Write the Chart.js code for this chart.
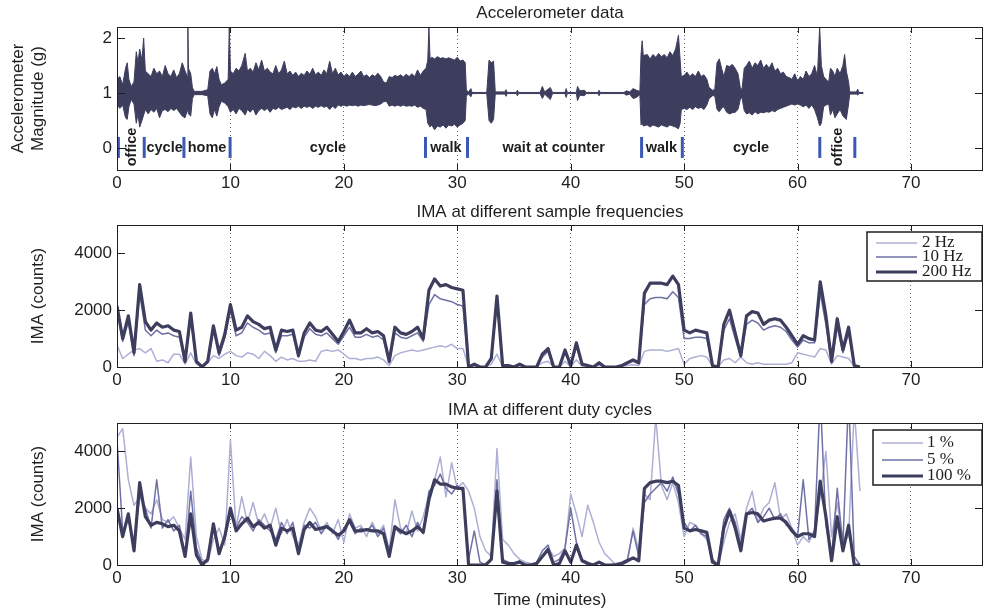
<!DOCTYPE html>
<html>
<head>
<meta charset="utf-8">
<script src="https://cdn.jsdelivr.net/npm/chart.js@4.4.1/dist/chart.umd.min.js"></script>
<style>
html, body { margin: 0; padding: 0; background: #fff; }
#wrap { position: relative; width: 984px; height: 611px; overflow: hidden; }
canvas { position: absolute; left: 0; }
</style>
</head>
<body>
<div id="wrap">
<canvas id="c1" width="984" height="200" style="top:0px"></canvas>
<canvas id="c2" width="984" height="198" style="top:200px"></canvas>
<canvas id="c3" width="984" height="213" style="top:398px"></canvas>
</div>
<script>
var FONT = "'Liberation Sans', Arial, Helvetica, sans-serif";
var SERIF = "'Liberation Serif', 'Times New Roman', serif";
var INK = "#1e1e1e";
var DARK = "#3d3e5e";
var MID = "#6f71a6";
var LIGHT = "#adafd5";
var BLUE = "#3a58b4";

// axes
var X_MAX = 76.35;
var xTicks = [0, 10, 20, 30, 40, 50, 60, 70];
var accTicks = [0, 1, 2];
var imaTicks = [0, 2000, 4000];

// accelerometer envelope (minutes, upper and lower magnitude in g)
var accTime = [
  0, 0.25, 0.5, 0.75, 0.9, 1.05, 1.25, 1.5, 1.7, 1.85,
  2, 2.2, 2.35, 2.5, 2.75, 3, 3.25, 3.5, 3.75, 4,
  4.25, 4.5, 4.75, 5, 5.25, 5.5, 5.75, 6, 6.2, 6.25,
  6.3, 6.5, 6.65, 6.8, 7.5, 8, 8.2, 8.4, 8.6, 8.8,
  9, 9.2, 9.5, 9.8, 9.9, 10, 10.25, 10.5, 10.75, 11,
  11.3, 11.5, 11.75, 12, 12.25, 12.5, 12.75, 13, 13.25, 13.5,
  13.75, 14, 14.25, 14.5, 14.75, 15, 15.25, 15.5, 15.75, 16,
  16.25, 16.5, 16.75, 17, 17.25, 17.5, 17.75, 18, 18.25, 18.5,
  18.75, 19, 19.25, 19.5, 19.75, 20, 20.25, 20.5, 20.75, 21,
  21.25, 21.5, 21.75, 22, 22.25, 22.5, 22.75, 23, 23.25, 23.5,
  23.75, 24, 24.25, 24.5, 24.75, 25, 25.25, 25.5, 25.75, 26,
  26.25, 26.5, 26.75, 27, 27.25, 27.4, 27.5, 27.6, 27.75, 28,
  28.25, 28.5, 28.75, 29, 29.25, 29.5, 29.75, 30, 30.25, 30.5,
  30.7, 30.8, 31, 31.2, 31.3, 32.6, 32.8, 33, 33.2, 33.35,
  34.2, 34.3, 34.4, 35.2, 35.3, 35.4, 37.3, 37.5, 37.7, 38.2,
  38.4, 39.5, 39.6, 39.7, 40.5, 40.6, 40.8, 41.2, 41.4, 42.4,
  42.5, 42.6, 44.7, 44.9, 45.2, 45.5, 45.8, 46.1, 46.2, 46.3,
  46.4, 46.75, 47, 47.25, 47.5, 47.75, 48, 48.25, 48.5, 48.75,
  49, 49.25, 49.5, 49.65, 49.75, 50, 50.25, 50.5, 50.75, 51,
  51.25, 51.5, 51.75, 52, 52.2, 52.5, 52.7, 52.9, 53.1, 53.3,
  53.5, 53.75, 54, 54.25, 54.5, 54.75, 54.95, 55.1, 55.3, 55.5,
  55.75, 56, 56.25, 56.5, 56.75, 57, 57.25, 57.5, 57.75, 58,
  58.25, 58.5, 58.75, 59, 59.25, 59.5, 59.75, 60, 60.25, 60.5,
  60.75, 61, 61.25, 61.5, 61.75, 61.95, 62.1, 62.3, 62.5, 62.75,
  62.9, 63.1, 63.3, 63.5, 63.75, 64, 64.15, 64.3, 64.5, 64.6,
  65.2, 65.3, 65.4, 65.8
];
var accHigh = [
  1.25, 1.30, 1.15, 1.45, 1.55, 1.25, 1.12, 1.20, 1.75, 1.55,
  1.80, 1.60, 2.00, 1.40, 1.35, 1.30, 1.45, 1.35, 1.40, 1.30,
  1.50, 1.35, 1.30, 1.42, 1.28, 1.35, 1.55, 1.40, 1.30, 2.20,
  1.45, 1.35, 1.10, 1.03, 1.03, 1.06, 1.40, 1.45, 1.35, 1.48,
  1.25, 1.15, 1.18, 1.25, 2.20, 1.40, 1.35, 1.45, 1.40, 1.50,
  1.72, 1.40, 1.45, 1.38, 1.55, 1.42, 1.60, 1.40, 1.45, 1.38,
  1.35, 1.50, 1.35, 1.42, 1.58, 1.35, 1.40, 1.32, 1.38, 1.30,
  1.36, 1.32, 1.40, 1.34, 1.45, 1.33, 1.38, 1.32, 1.42, 1.35,
  1.58, 1.35, 1.45, 1.33, 1.38, 1.30, 1.35, 1.30, 1.38, 1.30,
  1.34, 1.40, 1.30, 1.33, 1.28, 1.33, 1.30, 1.36, 1.30, 1.20,
  1.18, 1.30, 1.28, 1.32, 1.30, 1.33, 1.29, 1.34, 1.30, 1.35,
  1.30, 1.42, 1.32, 1.40, 1.45, 1.60, 2.20, 1.62, 1.65, 1.62,
  1.66, 1.63, 1.64, 1.62, 1.64, 1.62, 1.60, 1.65, 1.58, 1.60,
  1.55, 1.05, 1.02, 1.08, 1.01, 1.01, 1.60, 1.55, 1.58, 1.02,
  1.02, 1.06, 1.01, 1.01, 1.05, 1.01, 1.01, 1.12, 1.02, 1.10,
  1.01, 1.01, 1.08, 1.01, 1.01, 1.12, 1.04, 1.05, 1.01, 1.01,
  1.05, 1.01, 1.01, 1.04, 1.02, 1.08, 1.05, 1.03, 1.70, 1.95,
  1.68, 1.70, 1.62, 1.70, 1.65, 1.72, 1.66, 1.70, 1.64, 1.75,
  1.68, 1.80, 2.05, 1.60, 1.30, 1.32, 1.38, 1.30, 1.35, 1.30,
  1.40, 1.30, 1.33, 1.25, 1.10, 1.05, 1.06, 1.55, 1.62, 1.45,
  1.30, 1.50, 1.48, 1.52, 1.45, 1.35, 1.10, 1.06, 1.45, 1.50,
  1.58, 1.45, 1.55, 1.50, 1.60, 1.45, 1.52, 1.45, 1.55, 1.40,
  1.45, 1.35, 1.38, 1.30, 1.28, 1.25, 1.35, 1.22, 1.30, 1.25,
  1.40, 1.30, 1.35, 1.50, 1.30, 2.20, 1.50, 1.30, 1.25, 1.20,
  1.45, 1.40, 1.30, 1.45, 1.35, 1.50, 1.70, 1.40, 1.20, 1.02,
  1.02, 1.07, 1.01, 1.01
];
var accLow = [
  0.80, 0.72, 0.78, 0.55, 0.52, 0.75, 0.88, 0.80, 0.45, 0.62,
  0.38, 0.50, 0.60, 0.70, 0.62, 0.70, 0.65, 0.72, 0.55, 0.68,
  0.70, 0.66, 0.72, 0.68, 0.72, 0.65, 0.58, 0.55, 0.70, 0.70,
  0.62, 0.58, 0.90, 0.97, 0.97, 0.95, 0.62, 0.55, 0.70, 0.58,
  0.75, 0.85, 0.82, 0.75, 0.70, 0.65, 0.70, 0.62, 0.72, 0.68,
  0.60, 0.70, 0.65, 0.72, 0.60, 0.68, 0.72, 0.68, 0.72, 0.65,
  0.72, 0.70, 0.74, 0.70, 0.72, 0.74, 0.70, 0.75, 0.73, 0.76,
  0.72, 0.76, 0.74, 0.76, 0.72, 0.76, 0.74, 0.77, 0.74, 0.76,
  0.70, 0.76, 0.72, 0.78, 0.76, 0.78, 0.76, 0.78, 0.77, 0.78,
  0.76, 0.78, 0.77, 0.78, 0.79, 0.78, 0.77, 0.78, 0.80, 0.84,
  0.85, 0.76, 0.78, 0.76, 0.78, 0.76, 0.78, 0.76, 0.77, 0.76,
  0.78, 0.74, 0.76, 0.72, 0.70, 0.45, 0.42, 0.38, 0.42, 0.33,
  0.40, 0.38, 0.42, 0.36, 0.42, 0.40, 0.43, 0.38, 0.42, 0.45,
  0.50, 0.95, 0.98, 0.93, 0.99, 0.99, 0.50, 0.45, 0.52, 0.98,
  0.98, 0.94, 0.99, 0.99, 0.95, 0.99, 0.99, 0.90, 0.98, 0.88,
  0.99, 0.99, 0.92, 0.99, 0.99, 0.86, 0.96, 0.95, 0.99, 0.99,
  0.95, 0.99, 0.99, 0.96, 0.98, 0.90, 0.92, 0.97, 0.42, 0.45,
  0.40, 0.42, 0.38, 0.42, 0.40, 0.38, 0.42, 0.40, 0.38, 0.42,
  0.40, 0.38, 0.35, 0.45, 0.70, 0.72, 0.70, 0.74, 0.70, 0.75,
  0.72, 0.74, 0.70, 0.78, 0.90, 0.95, 0.95, 0.70, 0.66, 0.72,
  0.75, 0.65, 0.62, 0.64, 0.65, 0.70, 0.88, 0.92, 0.68, 0.62,
  0.64, 0.60, 0.66, 0.62, 0.65, 0.64, 0.66, 0.65, 0.68, 0.66,
  0.70, 0.72, 0.74, 0.76, 0.78, 0.80, 0.78, 0.80, 0.78, 0.75,
  0.78, 0.72, 0.78, 0.70, 0.55, 0.40, 0.45, 0.75, 0.78, 0.80,
  0.60, 0.70, 0.55, 0.62, 0.70, 0.58, 0.55, 0.52, 0.80, 0.98,
  0.98, 0.96, 0.99, 0.99
];

// activity annotations
var activityNames = ["office", "cycle", "home", "cycle", "walk", "wait at counter", "walk", "cycle", "office"];
var activityTimes = [1.35, 4.2, 7.94, 18.6, 29.0, 38.5, 48.0, 55.9, 63.6];
var activityUpright = [false, true, true, true, true, true, true, true, false];
var boundaryTimes = [0.12, 2.4, 5.9, 9.97, 27.2, 30.9, 46.25, 49.84, 61.96, 65.05];

// IMA epochs, every half minute from 0 to 65.5
var imaTime = [];
for (var k = 0; k < 132; k++) imaTime.push(k * 0.5);

var ima2Hz = [
  770, 300, 450, 600, 650, 500, 650, 200, 250, 150,
  450, 450, 100, 500, 100, 0, 150, 400, 300, 450,
  550, 400, 350, 500, 450, 300, 550, 400, 200, 350,
  250, 300, 200, 200, 250, 200, 550, 600, 550, 600,
  450, 300, 300, 250, 300, 300, 350, 250, 50, 400,
  500, 550, 600, 550, 600, 650, 700, 750, 700, 800,
  650, 650, 0, 20, 0, 0, 100, 450, 20, 20,
  0, 30, 0, 0, 0, 150, 200, 0, 0, 200,
  20, 250, 30, 20, 0, 50, 0, 0, 0, 20,
  50, 80, 50, 550, 600, 600, 600, 550, 600, 650,
  100, 300, 350, 400, 350, 20, 0, 250, 300, 150,
  350, 150, 100, 150, 100, 100, 100, 100, 100, 150,
  500, 450, 400, 350, 650, 600, 100, 400, 350, 300,
  20, 0
];
var ima10Hz = [
  2000, 900, 1600, 400, 2600, 1300, 1100, 1300, 1150, 1200,
  1100, 1050, 150, 1700, 150, 0, 150, 1300, 400, 1000,
  2000, 1100, 1200, 1550, 1400, 1300, 1150, 1200, 500, 1100,
  1100, 1150, 350, 1050, 1350, 1150, 1100, 1200, 1000, 800,
  1100, 1400, 1050, 1050, 1150, 1050, 1100, 950, 150, 1200,
  1050, 1000, 1100, 1200, 900, 2200, 2550, 2400, 2350, 2300,
  2200, 2150, 0, 80, 0, 0, 250, 2300, 40, 40,
  0, 80, 0, 0, 0, 350, 550, 0, 0, 500,
  40, 700, 80, 40, 0, 120, 0, 0, 0, 40,
  120, 200, 120, 2200, 2400, 2450, 2450, 2400, 2650, 2450,
  1000, 1000, 1050, 1050, 1000, 40, 0, 1300, 1700, 1000,
  350, 1500, 1650, 1550, 1300, 1400, 1450, 1400, 1250, 950,
  700, 950, 850, 850, 2600, 1500, 150, 1400, 500, 1200,
  40, 0
];
var ima200Hz = [
  2150, 1000, 1800, 500, 2900, 1600, 1300, 1550, 1400, 1450,
  1300, 1250, 200, 1900, 200, 0, 200, 1450, 500, 1150,
  2200, 1300, 1400, 1800, 1600, 1500, 1350, 1400, 600, 1300,
  1250, 1300, 400, 1200, 1550, 1300, 1250, 1400, 1150, 900,
  1250, 1650, 1200, 1200, 1350, 1200, 1250, 1100, 200, 1400,
  1200, 1150, 1250, 1400, 1000, 2700, 3100, 2850, 2900, 2800,
  2750, 2700, 0, 100, 0, 0, 300, 2500, 50, 50,
  0, 100, 0, 0, 0, 450, 650, 0, 0, 600,
  50, 850, 100, 50, 0, 150, 0, 0, 0, 50,
  150, 250, 150, 2600, 2950, 2950, 2950, 2900, 3200, 2900,
  1300, 1200, 1300, 1250, 1200, 50, 0, 1500, 2000, 1200,
  400, 1800, 1950, 1900, 1500, 1650, 1700, 1650, 1400, 1100,
  800, 1100, 1000, 950, 3000, 1800, 200, 1700, 600, 1400,
  50, 0
];

var duty1 = [
  4500, 4800, 3000, 2100, 2400, 2000, 1800, 2300, 1600, 1500,
  1700, 1300, 900, 3800, 1000, 200, 100, 900, 1300, 700,
  4400, 1300, 2400, 1500, 2200, 1400, 1800, 1300, 2000, 1100,
  1600, 1000, 700, 1500, 2000, 1700, 1200, 1500, 1100, 1600,
  800, 1800, 1300, 1400, 1000, 1500, 1100, 1400, 500, 2300,
  1300, 1100, 1900, 1200, 1700, 2500, 3000, 3800, 2400, 3600,
  2700, 2900, 2600, 2000, 1000, 500, 300, 4100, 900, 700,
  400, 200, 100, 50, 50, 300, 600, 300, 400, 600,
  2500, 1800, 1000, 2100, 1500, 800, 400, 200, 0, 0,
  100, 1300, 500, 2500, 2300, 5200, 2800, 2300, 2900, 2200,
  1000, 1500, 1400, 1100, 900, 200, 0, 800, 1500, 1800,
  900, 2000, 2600, 1500, 2000, 2200, 2900, 1600, 1800, 1300,
  700, 1000, 800, 1200, 2400, 4000, 1000, 2200, 800, 1000,
  5500, 2600
];
var duty5 = [
  4400, 1200, 1600, 700, 2500, 2000, 1300, 3000, 1300, 1600,
  1200, 1400, 300, 2600, 600, 100, 150, 1400, 500, 900,
  1800, 1300, 1700, 1500, 1200, 1600, 1400, 1200, 900, 1500,
  1100, 1500, 500, 1400, 1300, 1500, 1100, 1400, 1250, 900,
  1300, 1500, 1100, 1300, 1200, 1400, 1000, 1300, 500, 1300,
  1100, 1400, 1000, 1500, 1100, 2600, 2800, 3200, 2700, 2500,
  2800, 2600, 200, 1200, 100, 0, 200, 3000, 200, 100,
  50, 150, 0, 0, 100, 500, 700, 100, 200, 600,
  2000, 800, 200, 100, 0, 100, 0, 0, 50, 100,
  200, 1200, 300, 2200, 2500, 2700, 2900, 2600, 3100, 2500,
  1500, 1200, 1400, 1100, 1000, 200, 0, 1600, 2000, 1500,
  700, 1800, 2000, 1500, 1700, 2000, 1600, 1800, 1400, 1300,
  1000, 3000, 900, 1200, 6000, 1400, 300, 2700, 700, 6000,
  300, 0
];
var duty100 = [
  2000, 1000, 1800, 500, 2900, 1700, 1400, 1500, 1450, 1350,
  1400, 1200, 300, 1800, 350, 0, 200, 1450, 400, 1000,
  2000, 1200, 1450, 1650, 1350, 1500, 1300, 1400, 700, 1300,
  1200, 1300, 400, 1250, 1500, 1250, 1300, 1350, 1200, 1050,
  1200, 1600, 1200, 1200, 1250, 1200, 1200, 1100, 300, 1350,
  1200, 1100, 1200, 1350, 1150, 2300, 3000, 2850, 2850, 2750,
  2700, 2700, 0, 0, 0, 0, 200, 2600, 100, 50,
  50, 100, 0, 0, 50, 300, 550, 0, 50, 500,
  100, 700, 150, 50, 0, 100, 0, 0, 0, 50,
  150, 250, 150, 2700, 2900, 2950, 2950, 2900, 2950, 2800,
  1300, 1200, 1250, 1200, 1150, 100, 0, 1300, 1900, 1300,
  500, 1800, 1850, 1800, 1550, 1600, 1650, 1650, 1500, 1200,
  1000, 1100, 1100, 1000, 2950, 1700, 150, 1700, 500, 1400,
  0, 0
];

function pairs(xs, ys) {
  return ys.map(function (v, i) { return { x: xs[i], y: v }; });
}

// box round the axes with inward tick marks, as in the original figure
var frame = {
  id: "frame",
  afterDatasetsDraw: function (chart) {
    var ctx = chart.ctx, a = chart.chartArea, sx = chart.scales.x, sy = chart.scales.y;
    ctx.save();
    ctx.strokeStyle = INK;
    ctx.lineWidth = 1;
    ctx.beginPath();
    sx.ticks.forEach(function (t) {
      var px = Math.round(sx.getPixelForValue(t.value)) + 0.5;
      ctx.moveTo(px, a.bottom); ctx.lineTo(px, a.bottom - 6);
      ctx.moveTo(px, a.top); ctx.lineTo(px, a.top + 6);
    });
    sy.ticks.forEach(function (t) {
      var py = Math.round(sy.getPixelForValue(t.value)) + 0.5;
      ctx.moveTo(a.left, py); ctx.lineTo(a.left + 8, py);
      ctx.moveTo(a.right, py); ctx.lineTo(a.right - 8, py);
    });
    ctx.stroke();
    ctx.strokeRect(Math.round(a.left) + 0.5, Math.round(a.top) + 0.5,
      Math.round(a.right - a.left) - 1, Math.round(a.bottom - a.top));
    ctx.restore();
  }
};

var boxLegend = {
  id: "boxLegend",
  afterDatasetsDraw: function (chart, args, o) {
    if (!o || !o.width) return;
    var ctx = chart.ctx, a = chart.chartArea;
    var left = a.right - o.right - o.width, top = a.top + o.top;
    ctx.save();
    ctx.fillStyle = "#fff";
    ctx.fillRect(left, top, o.width, o.height);
    ctx.strokeStyle = INK;
    ctx.lineWidth = 1.5;
    ctx.strokeRect(left, top, o.width, o.height);
    ctx.font = "17px " + SERIF;
    ctx.textBaseline = "middle";
    ctx.textAlign = "left";
    chart.data.datasets.forEach(function (ds, i) {
      var y = top + o.rows[i];
      ctx.strokeStyle = ds.borderColor;
      ctx.lineWidth = ds.borderWidth;
      ctx.beginPath();
      ctx.moveTo(left + 9, y);
      ctx.lineTo(left + 50, y);
      ctx.stroke();
      ctx.fillStyle = INK;
      ctx.fillText(ds.label, left + o.textX, y);
    });
    ctx.restore();
  }
};

var activityLabels = {
  id: "activityLabels",
  afterDatasetsDraw: function (chart) {
    var ctx = chart.ctx, sx = chart.scales.x, sy = chart.scales.y;
    ctx.save();
    ctx.fillStyle = INK;
    ctx.font = "bold 14.5px " + FONT;
    ctx.textAlign = "center";
    ctx.textBaseline = "middle";
    activityNames.forEach(function (name, i) {
      var px = sx.getPixelForValue(activityTimes[i]);
      if (activityUpright[i]) {
        ctx.fillText(name, px, sy.getPixelForValue(0));
      } else {
        ctx.save();
        ctx.translate(px, sy.getPixelForValue(0.02));
        ctx.rotate(-Math.PI / 2);
        ctx.fillText(name, 0, 0);
        ctx.restore();
      }
    });
    ctx.restore();
  }
};

function makeOptions(p) {
  return {
    responsive: false,
    animation: false,
    devicePixelRatio: 1,
    layout: { autoPadding: false, padding: { left: 0, right: 1, top: 0, bottom: 0 } },
    elements: { point: { radius: 0 }, line: { tension: 0, borderJoinStyle: "round" } },
    plugins: {
      legend: { display: false },
      tooltip: { enabled: false },
      title: {
        display: true, text: p.title, fullSize: false, color: INK,
        font: { family: FONT, size: 17, weight: "normal", lineHeight: 1 },
        padding: { top: p.titleTop, bottom: p.titleBottom }
      },
      boxLegend: p.legend || {}
    },
    scales: {
      x: {
        type: "linear", min: 0, max: X_MAX,
        afterBuildTicks: function (s) { s.ticks = xTicks.map(function (v) { return { value: v }; }); },
        afterFit: function (s) { s.height = p.xHeight; },
        ticks: {
          color: INK, padding: 3, maxRotation: 0, autoSkip: false, font: { family: FONT, size: 17 },
          callback: function (v) { return String(v); }
        },
        grid: { color: "rgba(50,50,50,0.75)", lineWidth: 1, drawTicks: false },
        border: { display: false, dash: [1, 3] },
        title: p.xTitle ? {
          display: true, text: p.xTitle, color: INK,
          font: { family: FONT, size: 17, lineHeight: 1 }, padding: { top: 0, bottom: 2 }
        } : { display: false }
      },
      y: {
        min: p.yMin, max: p.yMax,
        afterBuildTicks: function (s) { s.ticks = p.yTicks.map(function (v) { return { value: v }; }); },
        afterFit: function (s) { s.width = 117; },
        ticks: {
          color: INK, padding: 5, font: { family: FONT, size: 17 },
          callback: function (v) { return String(v); }
        },
        grid: { display: false, drawTicks: false },
        border: { display: false },
        title: {
          display: true, text: p.yTitle, color: INK,
          font: { family: FONT, size: 17, lineHeight: 1.18 }, padding: { top: p.yTitlePad, bottom: 0 }
        }
      }
    }
  };
}

new Chart(document.getElementById("c1"), {
  type: "line",
  data: {
    datasets: [
      { label: "upper", data: pairs(accTime, accHigh), borderColor: DARK, backgroundColor: DARK, borderWidth: 1, fill: "+1", order: 1 },
      { label: "lower", data: pairs(accTime, accLow), borderColor: DARK, borderWidth: 1, fill: false, order: 2 },
      {
        label: "boundaries",
        data: boundaryTimes.map(function (t) { return { x: t, y: 0.01 }; }),
        showLine: false, pointStyle: "line", pointRotation: 90, pointRadius: 10.5,
        pointBorderColor: BLUE, pointBorderWidth: 3, order: 0
      }
    ]
  },
  options: makeOptions({
    title: "Accelerometer data", titleTop: 4.5, titleBottom: 5.5, xHeight: 30,
    yMin: -0.4, yMax: 2.2, yTicks: accTicks,
    yTitle: ["Accelerometer", "Magnitude (g)"], yTitlePad: 8
  }),
  plugins: [frame, activityLabels, boxLegend]
});

new Chart(document.getElementById("c2"), {
  type: "line",
  data: {
    datasets: [
      { label: "2 Hz", data: pairs(imaTime, ima2Hz), borderColor: LIGHT, borderWidth: 1.5, order: 3 },
      { label: "10 Hz", data: pairs(imaTime, ima10Hz), borderColor: MID, borderWidth: 1.5, order: 2 },
      { label: "200 Hz", data: pairs(imaTime, ima200Hz), borderColor: DARK, borderWidth: 3.2, order: 1 }
    ]
  },
  options: makeOptions({
    title: "IMA at different sample frequencies", titleTop: 4, titleBottom: 4, xHeight: 31,
    yMin: 0, yMax: 5000, yTicks: imaTicks, yTitle: "IMA (counts)", yTitlePad: 28,
    legend: { width: 115, height: 49, right: 1, top: 7, rows: [11, 25, 40], textX: 55 }
  }),
  plugins: [frame, boxLegend]
});

new Chart(document.getElementById("c3"), {
  type: "line",
  data: {
    datasets: [
      { label: "1 %", data: pairs(imaTime, duty1), borderColor: LIGHT, borderWidth: 1.5, order: 3 },
      { label: "5 %", data: pairs(imaTime, duty5), borderColor: MID, borderWidth: 1.5, order: 2 },
      { label: "100 %", data: pairs(imaTime, duty100), borderColor: DARK, borderWidth: 3.2, order: 1 }
    ]
  },
  options: makeOptions({
    title: "IMA at different duty cycles", titleTop: 4, titleBottom: 4, xHeight: 46,
    yMin: 0, yMax: 5000, yTicks: imaTicks, yTitle: "IMA (counts)", yTitlePad: 28,
    xTitle: "Time (minutes)",
    legend: { width: 109, height: 55, right: 1, top: 7, rows: [13, 30, 46], textX: 54 }
  }),
  plugins: [frame, boxLegend]
});
</script>
</body>
</html>
